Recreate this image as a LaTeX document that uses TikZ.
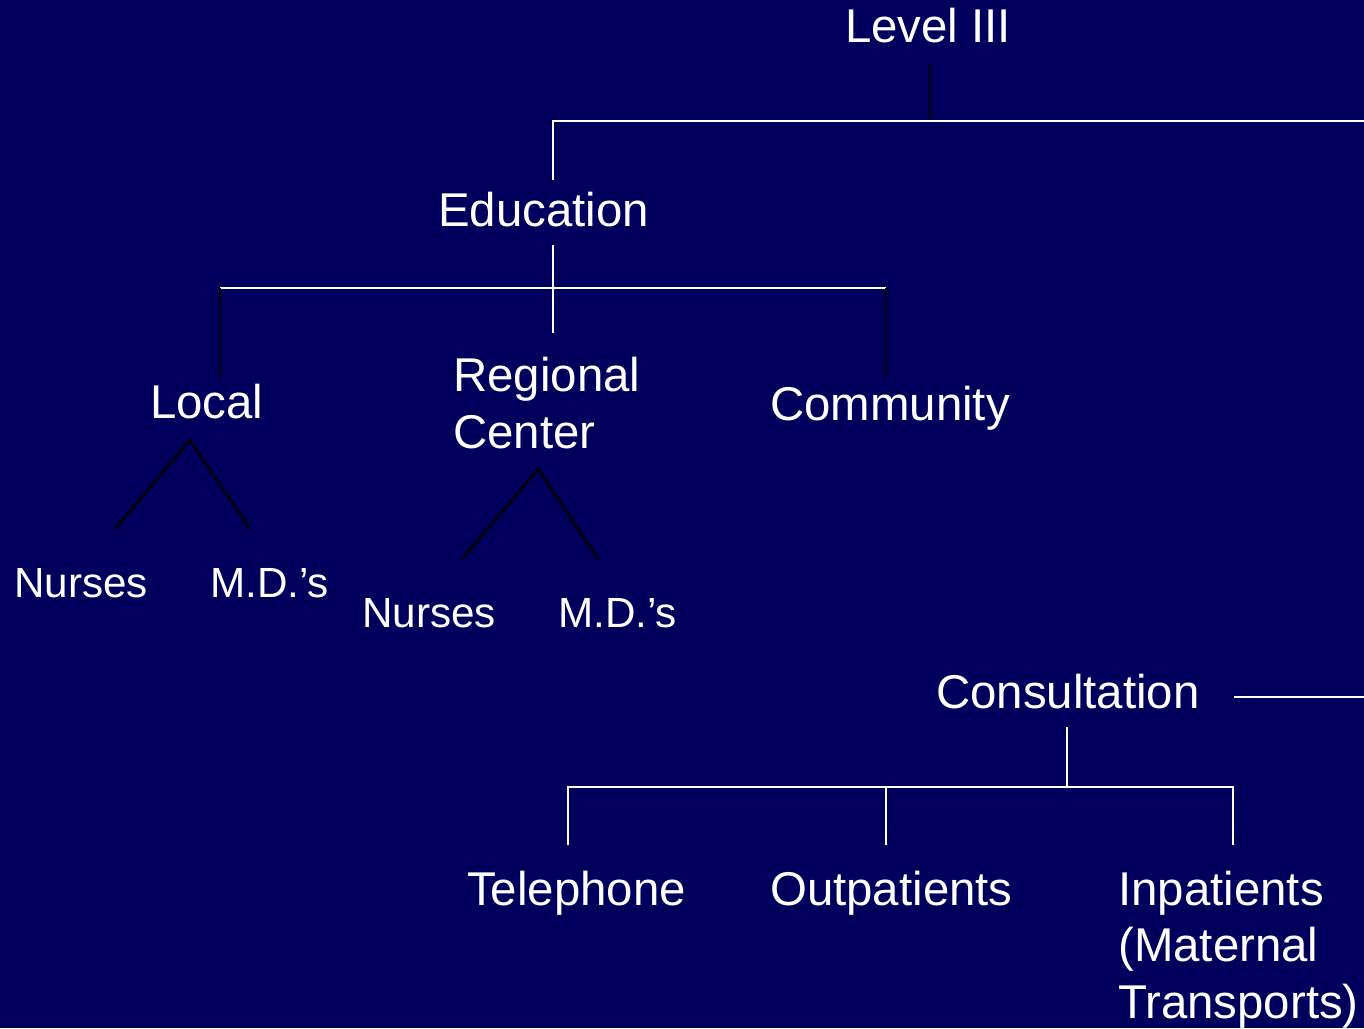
\documentclass[tikz,border=0pt]{standalone}
\usepackage{fontspec}
\setmainfont{Liberation Sans}
\definecolor{bgnavy}{RGB}{0,0,92}
\begin{document}
\begin{tikzpicture}[x=1pt,y=-1pt,
  big/.style={text=white,inner sep=0pt,anchor=base west,font=\fontsize{47.4}{56.5}\selectfont,align=left},
  small/.style={text=white,inner sep=0pt,anchor=base west,font=\fontsize{42.2}{50}\selectfont},
  wline/.style={draw=white,line width=2pt},
  bline/.style={draw=black,line width=2.5pt}]
\fill[bgnavy] (0,0) rectangle (1364,1028);
\useasboundingbox (0,0) rectangle (1364,1028);
% texts
\node[big] (lvl) at (845,42) {Level III};
\node[big] (edu) at (438,226) {Education};
\node[big] (loc) at (150,418) {Local};
\node[big] (reg) at (453,448) {Regional\\Center};
\node[big] (com) at (770,420) {Community};
\node[small] (n1) at (14,597) {Nurses};
\node[small] (m1) at (210,597) {M.D.’s};
\node[small] (n2) at (362,627) {Nurses};
\node[small] (m2) at (558,627) {M.D.’s};
\node[big] (con) at (936,708) {Consultation};
\node[big] (tel) at (467,905) {Telephone};
\node[big] (out) at (770,905) {Outpatients};
\node[big] (inp) at (1118,1018) {Inpatients\\(Maternal\\Transports)};
% coordinates
\coordinate (lvlB) at (930,63);
\coordinate (lvlJ) at (930,121);
\coordinate (topL) at (553,121);
\coordinate (topR) at (1364,121);
\coordinate (eduT) at (553,180);
\coordinate (eduB) at (553,245);
\coordinate (eduJ) at (553,333);
\coordinate (midL) at (220,288);
\coordinate (midR) at (886,288);
\coordinate (locT) at (220,377);
\coordinate (comT) at (886,377);
\coordinate (locA) at (190,440);
\coordinate (n1T) at (115,529);
\coordinate (m1T) at (250,529);
\coordinate (regA) at (538,469);
\coordinate (n2T) at (462,559);
\coordinate (m2T) at (598,559);
\coordinate (conR) at (1234,697);
\coordinate (conE) at (1364,697);
\coordinate (conB) at (1067,727);
\coordinate (conJ) at (1067,787);
\coordinate (botL) at (568,787);
\coordinate (botM) at (886,787);
\coordinate (botR) at (1233,787);
\coordinate (telT) at (568,845);
\coordinate (outT) at (886,845);
\coordinate (inpT) at (1233,845);
% lines
\draw[bline] (lvlB) -- (lvlJ);
\draw[wline] (topR) -- (topL) -- (eduT);
\draw[wline] (eduB) -- (eduJ);
\draw[wline] (midL) -- (midR);
\draw[bline] (midL) -- (locT);
\draw[bline] (midR) -- (comT);
\draw[bline] (n1T) -- (locA) -- (m1T);
\draw[bline] (n2T) -- (regA) -- (m2T);
\draw[wline] (conR) -- (conE);
\draw[wline] (conB) -- (conJ);
\draw[wline] (telT) -- (botL) -- (botR) -- (inpT);
\draw[wline] (botM) -- (outT);
\end{tikzpicture}
\end{document}
